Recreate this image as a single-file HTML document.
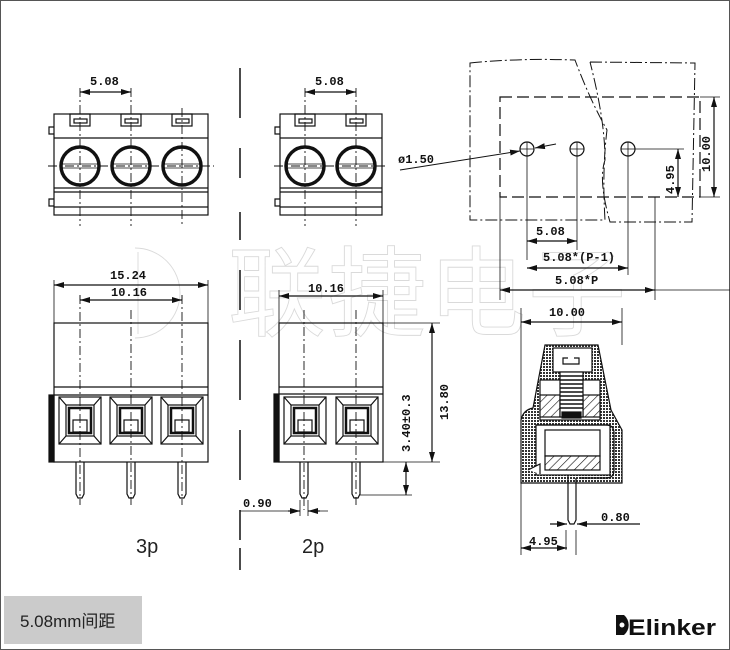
<!DOCTYPE html>
<html><head><meta charset="utf-8"><style>
html,body{margin:0;padding:0;background:#fff;}
svg{display:block;}
text{font-family:"Liberation Sans","Noto Sans CJK SC",sans-serif;}
.d text{font-family:"Liberation Mono",monospace;font-weight:bold;font-size:12px;fill:#111;}
</style></head><body>
<svg width="730" height="650" viewBox="0 0 730 650" xmlns="http://www.w3.org/2000/svg">
<defs>
<marker id="a" viewBox="0 0 10 6" refX="10" refY="3" markerWidth="10" markerHeight="6" orient="auto-start-reverse" markerUnits="userSpaceOnUse"><path d="M0,0 L10,3 L0,6 z" fill="#111"/></marker>
<pattern id="dots" width="3" height="3" patternUnits="userSpaceOnUse"><rect width="3" height="3" fill="#fff"/><rect width="2" height="2" fill="#333"/></pattern>
<pattern id="hatch" width="6" height="6" patternUnits="userSpaceOnUse" patternTransform="rotate(45)"><rect width="6" height="6" fill="#fff"/><line x1="0" y1="0" x2="0" y2="6" stroke="#111" stroke-width="1.2"/></pattern>
</defs>
<rect x="0.5" y="0.5" width="729" height="649" fill="#fff" stroke="#555"/>

<!-- watermark -->
<g fill="none" stroke="#dadada" stroke-width="0.9">
<text x="228" y="328" font-size="98" font-family="'Noto Sans CJK SC',sans-serif" letter-spacing="2" fill="none">联捷电子</text>
<path d="M135,248 A45,45 0 0 1 135,338 M138,252 L138,334"/>
</g>

<g stroke="#111" fill="none" stroke-width="1.2">
<!-- separator -->
<path d="M240,68V118 M240,148V178 M240,212V240 M240,270V310 M240,340V400 M240,430V480 M240,510V540 M240,548V570" stroke-width="1.5"/>

<!-- 3p top view -->
<rect x="54" y="114" width="154" height="101"/>
<line x1="54" y1="138" x2="208" y2="138"/>
<line x1="54" y1="188" x2="208" y2="188"/><line x1="54" y1="192" x2="208" y2="192"/>
<line x1="54" y1="207" x2="208" y2="207"/>
<rect x="70" y="114" width="20" height="12"/><rect x="74" y="119" width="13" height="4"/>
<rect x="121" y="114" width="20" height="12"/><rect x="125" y="119" width="13" height="4"/>
<rect x="172" y="114" width="20" height="12"/><rect x="176" y="119" width="13" height="4"/>
<path d="M54,127h-5v7h5 M54,199h-5v7h5"/>
<g stroke-width="3.5"><circle cx="80" cy="166" r="19"/><circle cx="131" cy="166" r="19"/><circle cx="182" cy="166" r="19"/></g>
<g stroke-width="0.8"><line x1="62" y1="164" x2="98" y2="164"/><line x1="62" y1="168" x2="98" y2="168"/><line x1="113" y1="164" x2="149" y2="164"/><line x1="113" y1="168" x2="149" y2="168"/><line x1="164" y1="164" x2="200" y2="164"/><line x1="164" y1="168" x2="200" y2="168"/></g>
<g stroke-dasharray="9,3,2,3" stroke-width="0.9"><path d="M80,88V226 M131,88V226 M182,108V226 M48,166H214"/></g>
<line x1="80" y1="92" x2="131" y2="92" marker-start="url(#a)" marker-end="url(#a)"/>

<!-- 2p top view -->
<rect x="280" y="114" width="102" height="101"/>
<line x1="280" y1="138" x2="382" y2="138"/>
<line x1="280" y1="188" x2="382" y2="188"/><line x1="280" y1="192" x2="382" y2="192"/>
<line x1="280" y1="207" x2="382" y2="207"/>
<rect x="295" y="114" width="20" height="12"/><rect x="299" y="119" width="13" height="4"/>
<rect x="346" y="114" width="20" height="12"/><rect x="350" y="119" width="13" height="4"/>
<path d="M280,127h-5v7h5 M280,199h-5v7h5"/>
<g stroke-width="3.5"><circle cx="305" cy="166" r="19"/><circle cx="356" cy="166" r="19"/></g>
<g stroke-width="0.8"><line x1="287" y1="164" x2="323" y2="164"/><line x1="287" y1="168" x2="323" y2="168"/><line x1="338" y1="164" x2="374" y2="164"/><line x1="338" y1="168" x2="374" y2="168"/></g>
<g stroke-dasharray="9,3,2,3" stroke-width="0.9"><path d="M305,88V226 M356,88V226 M274,166H388"/></g>
<line x1="305" y1="92" x2="356" y2="92" marker-start="url(#a)" marker-end="url(#a)"/>

<!-- 3p front -->
<rect x="54" y="323" width="154" height="139"/>
<line x1="54" y1="387" x2="208" y2="387"/><line x1="54" y1="395" x2="208" y2="395"/>
<rect x="49" y="395" width="5" height="67" fill="#111"/>
<g id="sq3">
<rect x="59" y="397" width="42" height="47"/><rect x="66" y="405" width="28" height="31"/><rect x="69" y="408" width="22" height="25" stroke-width="2.5"/><rect x="73" y="420" width="14" height="12"/>
<path d="M59,397L66,405 M101,397L94,405 M59,444L66,436 M101,444L94,436"/>
</g>
<use href="#sq3" x="51"/><use href="#sq3" x="102"/>
<path d="M76,462V494l2,4h4l2,-4V462 M127,462V494l2,4h4l2,-4V462 M178,462V494l2,4h4l2,-4V462"/>
<g stroke-dasharray="9,3,2,3" stroke-width="0.9"><path d="M80,295V505 M131,310V505 M182,295V505"/></g>
<path d="M54,280V323 M208,280V323 M80,295V300 M182,295V300" stroke-width="0.8"/>
<line x1="54" y1="285" x2="208" y2="285" marker-start="url(#a)" marker-end="url(#a)"/>
<line x1="80" y1="300" x2="182" y2="300" marker-start="url(#a)" marker-end="url(#a)"/>

<!-- 2p front -->
<rect x="279" y="323" width="104" height="139"/>
<line x1="279" y1="387" x2="383" y2="387"/><line x1="279" y1="394" x2="383" y2="394"/>
<rect x="274" y="394" width="5" height="68" fill="#111"/>
<use href="#sq3" x="225"/><use href="#sq3" x="277"/>
<path d="M300,462V494l2,4h4l2,-4V462 M352,462V494l2,4h4l2,-4V462"/>
<g stroke-dasharray="9,3,2,3" stroke-width="0.9"><path d="M304,310V510 M356,310V505"/></g>
<path d="M279,290V323 M383,290V323 M383,323H440 M383,462H440 M360,495H412" stroke-width="0.8"/>
<line x1="279" y1="296" x2="383" y2="296" marker-start="url(#a)" marker-end="url(#a)"/>
<line x1="432" y1="323" x2="432" y2="462" marker-start="url(#a)" marker-end="url(#a)"/>
<line x1="406" y1="462" x2="406" y2="495" marker-start="url(#a)" marker-end="url(#a)"/>
<path d="M300,500V516 M308,500V516" stroke-width="0.8"/>
<path d="M240,511H300 M308,511H328" stroke-width="0.8"/>
<line x1="288" y1="511" x2="300" y2="511" marker-end="url(#a)"/>
<line x1="320" y1="511" x2="308" y2="511" marker-end="url(#a)"/>

<!-- right top view -->
<g stroke-dasharray="12,3,2,3" stroke-width="1">
<path d="M470,63 Q520,58 575,60 Q590,100 607,130 Q602,170 605,220 L470,220 Z"/>
<path d="M590,62 L695,63 L692,222 L610,222 Q598,180 605,160 Q605,120 590,62"/>
</g>
<g stroke-dasharray="12,5"><rect x="500" y="97" width="200" height="100"/></g>
<circle cx="527" cy="149" r="7"/><circle cx="577" cy="149" r="7"/><circle cx="628" cy="149" r="7"/>
<path d="M520,149h14 M527,142v14 M570,149h14 M577,142v14 M621,149h14 M628,142v14" stroke-width="0.8"/>
<path d="M527,156V260 M577,156V250 M628,156V275 M500,197V300 M655,197V300 M635,149H684 M700,97H720 M700,197H720" stroke-width="0.8"/>
<line x1="400" y1="170" x2="520" y2="151" marker-end="url(#a)" stroke-width="1"/>
<line x1="556" y1="144" x2="535" y2="148" marker-end="url(#a)" stroke-width="1"/>
<line x1="714" y1="97" x2="714" y2="197" marker-start="url(#a)" marker-end="url(#a)"/>
<line x1="678" y1="149" x2="678" y2="197" marker-start="url(#a)" marker-end="url(#a)"/>
<line x1="527" y1="241" x2="577" y2="241" marker-start="url(#a)" marker-end="url(#a)"/>
<line x1="527" y1="268" x2="628" y2="268" marker-start="url(#a)" marker-end="url(#a)"/>
<line x1="500" y1="290" x2="655" y2="290" marker-start="url(#a)" marker-end="url(#a)"/>
<line x1="730" y1="290" x2="655" y2="290" stroke-width="0.8"/>

<!-- side view -->
<path d="M521,308V555 M622,308V345" stroke-width="0.8"/>
<line x1="521" y1="322" x2="622" y2="322" marker-start="url(#a)" marker-end="url(#a)"/>
<path d="M545,345 L598,345 L611,410 L622,430 L622,483 L521,483 L521,420 Q523,410 533,408 Z" fill="url(#dots)"/>
<rect x="553" y="348" width="39" height="24" fill="#fff"/>
<path d="M568,358h-5v6h16v-6h-5" />
<rect x="540" y="380" width="60" height="40" fill="#fff"/>
<rect x="540" y="395" width="20" height="22" fill="url(#hatch)"/>
<rect x="583" y="395" width="17" height="22" fill="url(#hatch)"/>
<rect x="560" y="372" width="23" height="45" fill="#fff"/>
<g stroke-width="1.5"><path d="M560,376h23 M560,380h23 M560,384h23 M560,388h23 M560,392h23 M560,396h23 M560,400h23 M560,404h23 M560,408h23"/></g>
<rect x="562" y="412" width="19" height="6" fill="#111"/>
<rect x="536" y="425" width="74" height="50" fill="#fff"/>
<path d="M536,425H606Q614,425 614,433V470 Q614,478 606,478H580"/>
<rect x="545" y="430" width="55" height="26" fill="#fff"/>
<rect x="545" y="456" width="55" height="14" fill="url(#hatch)"/>
<path d="M528,470l12,-6v10" fill="#fff"/>
<path d="M568,475V520l2,4h4l2,-4V478" stroke-width="1.2"/>
<path d="M566,530V550 M576,530V555" stroke-width="0.8"/>
<line x1="521" y1="548" x2="567" y2="548" marker-start="url(#a)" marker-end="url(#a)"/>
<line x1="550" y1="524" x2="567" y2="524" marker-end="url(#a)"/>
<line x1="640" y1="524" x2="577" y2="524" marker-end="url(#a)"/>
</g>

<g class="d">
<text x="90" y="85">5.08</text>
<text x="315" y="85">5.08</text>
<text x="110" y="279">15.24</text>
<text x="111" y="296">10.16</text>
<text x="308" y="292">10.16</text>
<text x="243" y="507">0.90</text>
<text transform="translate(448,420) rotate(-90)">13.80</text>
<text transform="translate(410,452) rotate(-90)">3.40±0.3</text>
<text x="398" y="163">ø1.50</text>
<text x="536" y="235">5.08</text>
<text x="543" y="261">5.08*(P-1)</text>
<text x="555" y="284">5.08*P</text>
<text transform="translate(710,172) rotate(-90)">10.00</text>
<text transform="translate(674,194) rotate(-90)">4.95</text>
<text x="549" y="316">10.00</text>
<text x="601" y="521">0.80</text>
<text x="529" y="545">4.95</text>
</g>
<g font-size="20" fill="#222" font-family="'Liberation Sans',sans-serif" font-weight="300">
<text x="136" y="553">3p</text><text x="302" y="553">2p</text>
</g>
<rect x="4" y="596" width="138" height="48" fill="#cbcbcb"/>
<text x="20" y="627" font-size="17" fill="#222" font-family="'Liberation Sans','Noto Sans CJK SC',sans-serif">5.08mm间距</text>
<g>
<path d="M616,615 h8 a13,13 0 0 1 0,20 h-8 z" fill="#111"/>
<circle cx="622" cy="625" r="2.5" fill="#fff"/>
<text x="628" y="635" font-size="22" font-weight="bold" fill="#111" font-family="'Liberation Sans',sans-serif" textLength="88" lengthAdjust="spacingAndGlyphs">Elinker</text>
</g>
</svg>
</body></html>
